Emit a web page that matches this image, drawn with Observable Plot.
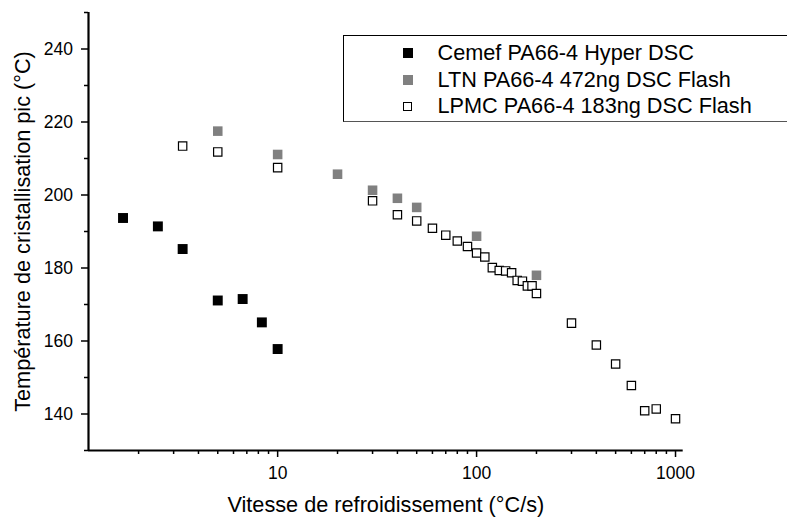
<!DOCTYPE html>
<html>
<head>
<meta charset="utf-8">
<script src="https://cdn.jsdelivr.net/npm/d3@7"></script>
<script src="https://cdn.jsdelivr.net/npm/@observablehq/plot@0.6"></script>
<style>
  html, body { margin: 0; padding: 0; background: #fff; overflow: hidden; }
  #wrap { position: relative; width: 787px; height: 518px; font-family: "Liberation Sans", Arial, sans-serif; }
  #legend { position: absolute; left: 342.5px; top: 35px; width: 460px; height: 85px;
            border-top: 1px solid #000; border-left: 1px solid #000; border-bottom: 1.5px solid #555; background: #fff; }
  .mk { position: absolute; box-sizing: border-box; }
  .lbl { position: absolute; left: 94px; font-size: 21.7px; color: #000; white-space: nowrap; line-height: 26px; }
</style>
</head>
<body>
<div id="wrap"></div>
<script>
// ---- data ----
const cemefSpeed = [1.67, 2.5, 3.33, 5, 6.67, 8.33, 10];
const cemefTemp  = [193.7, 191.4, 185.2, 171.1, 171.5, 165.1, 157.8];

const ltnSpeed = [5, 10, 20, 30, 40, 50, 100, 200];
const ltnTemp  = [217.5, 211.1, 205.7, 201.3, 199.1, 196.6, 188.7, 178.0];

const lpmcSpeed = [3.33, 5, 10, 30, 40, 50, 60, 70, 80, 90, 100, 110, 120, 130, 140, 150, 160, 170, 180, 190, 200, 300, 400, 500, 600, 700, 800, 1000];
const lpmcTemp  = [213.4, 211.8, 207.5, 198.4, 194.6, 192.9, 190.9, 189.0, 187.4, 185.9, 184.1, 183.0, 180.1, 179.3, 179.2, 178.7, 176.6, 176.4, 175.1, 175.1, 173.0, 164.9, 158.9, 153.7, 147.8, 140.9, 141.4, 138.7];

const seriesNames = ["Cemef PA66-4 Hyper DSC", "LTN PA66-4 472ng DSC Flash", "LPMC PA66-4 183ng DSC Flash"];

const xMajorTicks = [10, 100, 1000];
const xMinorTicks = [2, 3, 4, 5, 6, 7, 8, 9, 20, 30, 40, 50, 60, 70, 80, 90, 200, 300, 400, 500, 600, 700, 800, 900];
const yMajorTicks = [140, 160, 180, 200, 220, 240];
const yMinorTicks = [130, 150, 170, 190, 210, 230, 250];

const speedDomain = [1.12, 1093];
const tempDomain = [130, 250];

const xTitle = "Vitesse de refroidissement (°C/s)";
const yTitle = "Température de cristallisation pic (°C)";

// ---- build tables ----
const toRows = (xs, ys) => xs.map((x, i) => ({speed: x, temp: ys[i]}));
const cemef = toRows(cemefSpeed, cemefTemp);
const ltn = toRows(ltnSpeed, ltnTemp);
const lpmc = toRows(lpmcSpeed, lpmcTemp);

const chart = Plot.plot({
  width: 787,
  height: 518,
  marginLeft: 88,
  marginTop: 12,
  marginRight: 104.3,
  marginBottom: 68,
  x: {type: "log", domain: speedDomain},
  y: {domain: tempDomain},
  style: {fontFamily: "'Liberation Sans', Arial, sans-serif", fontSize: "17px", color: "#000", background: "#fff", overflow: "visible"},
  marks: [
    Plot.axisX(xMinorTicks, {tickSize: 4, strokeWidth: 1.5, tickFormat: () => "", label: null}),
    Plot.axisX(xMajorTicks, {tickSize: 7, tickPadding: 9, strokeWidth: 1.5, tickFormat: d => String(d), label: null, fontSize: 17.5}),
    Plot.axisY(yMinorTicks, {tickSize: 4, strokeWidth: 1.5, tickFormat: () => "", label: null}),
    Plot.axisY(yMajorTicks, {tickSize: 7, tickPadding: 8.5, strokeWidth: 1.5, tickFormat: d => String(d), label: null, fontSize: 17.5}),
    Plot.ruleX([speedDomain[0]], {strokeWidth: 2.2, stroke: "#000"}),
    Plot.ruleY([tempDomain[0]], {strokeWidth: 2.2, stroke: "#000"}),
    Plot.dot(cemef, {x: "speed", y: "temp", symbol: "square", r: 5.6, fill: "#000", stroke: "none"}),
    Plot.dot(ltn, {x: "speed", y: "temp", symbol: "square", r: 5.4, fill: "#808080", stroke: "none"}),
    Plot.dot(lpmc, {x: "speed", y: "temp", symbol: "square", r: 4.7, fill: "#fff", stroke: "#000", strokeWidth: 1.2}),
    Plot.text([xTitle], {frameAnchor: "bottom", dy: 54.8, fontSize: 21.7, lineAnchor: "middle", textAnchor: "middle", fill: "#000"}),
    Plot.text([yTitle], {frameAnchor: "left", dx: -65.7, rotate: -90, fontSize: 21.7, lineAnchor: "middle", textAnchor: "middle", fill: "#000"})
  ]
});

const wrap = document.getElementById("wrap");
wrap.appendChild(chart);

// ---- legend (HTML overlay inside plot area) ----
const legend = document.createElement("div");
legend.id = "legend";
const styles = [
  {bg: "#000", border: "none", size: 10},
  {bg: "#808080", border: "none", size: 10},
  {bg: "#fff", border: "1.2px solid #000", size: 9}
];
const rowCenters = [16.5, 43.5, 70];
seriesNames.forEach((name, i) => {
  const mk = document.createElement("div");
  mk.className = "mk";
  const s = styles[i];
  mk.style.width = s.size + "px";
  mk.style.height = s.size + "px";
  mk.style.background = s.bg;
  mk.style.border = s.border;
  mk.style.left = (64 - s.size / 2) + "px";
  mk.style.top = (rowCenters[i] - s.size / 2) + "px";
  legend.appendChild(mk);
  const lb = document.createElement("div");
  lb.className = "lbl";
  lb.textContent = name;
  lb.style.top = (rowCenters[i] - 13) + "px";
  legend.appendChild(lb);
});
wrap.appendChild(legend);
</script>
</body>
</html>
